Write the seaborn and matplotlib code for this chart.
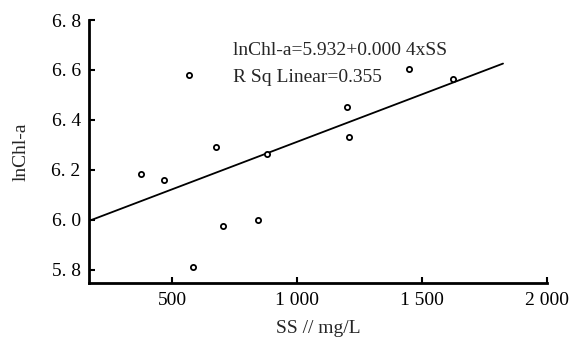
import numpy as np
import pandas as pd
import matplotlib
matplotlib.use("Agg")
import matplotlib.pyplot as plt
import seaborn as sns

# data
ss = [376, 468, 566, 582, 676, 702, 845, 879, 1199, 1207, 1450, 1623]
lnchl = [6.182, 6.159, 6.580, 5.811, 6.291, 5.973, 5.997, 6.262, 6.450, 6.332, 6.602, 6.562]
fit_intercept = 5.932
fit_slope = 0.00038
fit_x = [166, 1825]
xticks = [500, 1000, 1500, 2000]
xtick_labels = ["500", "1 000", "1 500", "2 000"]
yticks = [5.8, 6.0, 6.2, 6.4, 6.6, 6.8]
ytick_labels = ["5. 8", "6. 0", "6. 2", "6. 4", "6. 6", "6. 8"]
eq_lines = ["lnChl-a=5.932+0.000 4xSS", "R Sq Linear=0.355"]
xlabel = "SS // mg/L"
ylabel = "lnChl-a"

sns.set_style("ticks")
plt.rcParams["font.family"] = ["Liberation Serif", "DejaVu Serif"]

fig = plt.figure(figsize=(5.8, 3.45), dpi=100)
ax = fig.add_axes([0.1534, 0.1788, 0.9426 - 0.1534, 0.942 - 0.1788])

df = pd.DataFrame({"SS": ss, "lnChl": lnchl})
fit_df = pd.DataFrame({"SS": fit_x,
                       "lnChl": [fit_intercept + fit_slope * v for v in fit_x]})

sns.lineplot(data=fit_df, x="SS", y="lnChl", ax=ax, color="black", lw=1.3)
sns.scatterplot(data=df, x="SS", y="lnChl", ax=ax, marker="o", s=14,
                facecolor="white", edgecolor="black", linewidth=1.3, zorder=3)

ax.set_xlim(166, 2000)
ax.set_ylim(5.745, 6.8)
ax.set_xticks(xticks)
ax.set_xticklabels(xtick_labels)
ax.set_yticks(yticks)
ax.set_yticklabels(ytick_labels)
ax.tick_params(direction="in", length=4, width=1.5, labelsize=14, colors="black", pad=6)
for s in ["top", "right"]:
    ax.spines[s].set_visible(False)
for s in ["left", "bottom"]:
    ax.spines[s].set_linewidth(2)
    ax.spines[s].set_color("black")

ax.set_xlabel(xlabel, fontsize=14, labelpad=8)
ax.set_ylabel(ylabel, fontsize=14, labelpad=16)

ax.text(0.314, 0.886, eq_lines[0], transform=ax.transAxes, fontsize=14, va="center")
ax.text(0.314, 0.78, eq_lines[1], transform=ax.transAxes, fontsize=14, va="center")

fig.savefig("out.png", dpi=100, facecolor="white")
